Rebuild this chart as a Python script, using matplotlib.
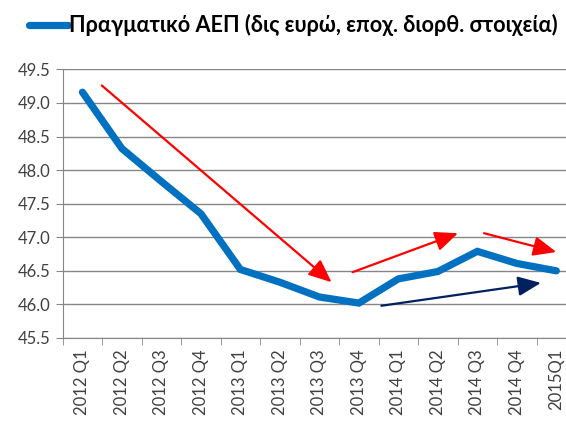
import matplotlib.pyplot as plt
import numpy as np

quarters = ["2012 Q1", "2012 Q2", "2012 Q3", "2012 Q4",
            "2013 Q1", "2013 Q2", "2013 Q3", "2013 Q4",
            "2014 Q1", "2014 Q2", "2014 Q3", "2014 Q4", "2015Q1"]
gdp = [49.16, 48.32, 47.83, 47.35, 46.52, 46.33, 46.11, 46.02,
       46.38, 46.49, 46.79, 46.61, 46.50]
label = "Πραγματικό ΑΕΠ (δις ευρώ, εποχ. διορθ. στοιχεία)"

# trend arrows (start idx, start val, end idx, end val, colour)
arrows = [
    (0.49, 49.26, 6.31, 46.33, "#FF0000"),
    (6.84, 46.48, 9.51, 47.06, "#FF0000"),
    (10.17, 47.06, 12.0, 46.78, "#FF0000"),
    (7.57, 45.98, 11.61, 46.32, "#002060"),
]

plt.rcParams['font.family'] = ['Lato', 'Noto Sans', 'DejaVu Sans']

fig = plt.figure(figsize=(5.66, 4.23), dpi=100)
ax = fig.add_axes([0.1108, 0.201, 0.907, 0.635])

x = np.arange(len(quarters))
ax.plot(x, gdp, color="#0070C0", lw=5.2, solid_capstyle="round",
        solid_joinstyle="miter", label=label, zorder=3)

for x0, y0, x1, y1, c in arrows:
    ax.annotate("", xy=(x1, y1), xytext=(x0, y0),
                arrowprops=dict(arrowstyle="-|>,head_length=1.4,head_width=0.6",
                                color=c, lw=1.6, shrinkA=0, shrinkB=0),
                zorder=4)

ax.set_xlim(-0.5, len(quarters) - 0.5)
ax.set_ylim(45.5, 49.5)
ax.set_yticks(np.arange(45.5, 49.51, 0.5))
ax.set_yticklabels([f"{v:.1f}" for v in np.arange(45.5, 49.51, 0.5)])
ax.yaxis.grid(True, color="#868686", lw=1)
ax.set_axisbelow(True)

ax.set_xticks(x)
ax.set_xticklabels(quarters, rotation=90)
ax.set_xticks(np.arange(-0.5, len(quarters), 1), minor=True)
ax.tick_params(axis="x", which="major", length=0, pad=8, labelsize=12, colors="#404040")
ax.tick_params(axis="x", which="minor", length=5, color="#868686")
ax.tick_params(axis="y", length=5, color="#868686", labelsize=12, labelcolor="#404040")

for s in ["top", "right"]:
    ax.spines[s].set_visible(False)
ax.spines["left"].set_color("#868686")
ax.spines["bottom"].set_color("#868686")

leg = fig.legend(loc="center left", bbox_to_anchor=(0.051, 0.94), frameon=False,
                 borderpad=0, borderaxespad=0,
                 handlelength=1.8, handletextpad=0.07,
                 prop=dict(weight="bold", size=15.6))

fig.savefig("out.png", dpi=100)
